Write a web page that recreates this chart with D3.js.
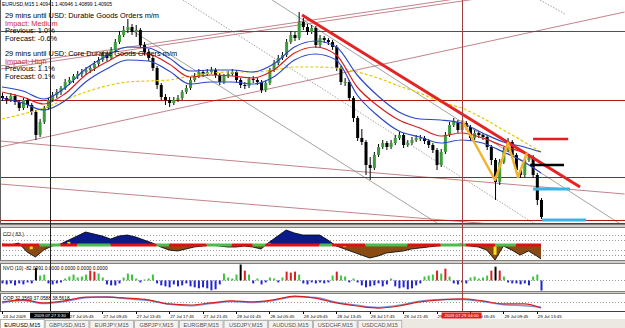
<!DOCTYPE html>
<html>
<head>
<meta charset="utf-8">
<script src="https://cdn.jsdelivr.net/npm/d3@7"></script>
<style>
body { margin: 0; background: #fff; }
svg { display: block; font-family: "Liberation Sans", Arial, sans-serif; }
</style>
</head>
<body>
<script>
// ---- price bars, 30 min steps (every 2nd M15 bar) ----
var firstOpen = 1.4209;
var closes = [1.4207,1.4205,1.4209,1.4203,1.4197,1.4205,1.4200,1.4193,1.4170,1.4183,
1.4197,1.4205,1.4210,1.4213,1.4217,1.4223,1.4225,1.4229,1.4231,1.4233,
1.4235,1.4237,1.4241,1.4245,1.4250,1.4247,1.4255,1.4263,1.4270,1.4275,
1.4278,1.4273,1.4275,1.4260,1.4253,1.4247,1.4237,1.4220,1.4208,1.4205,
1.4202,1.4205,1.4207,1.4213,1.4217,1.4225,1.4229,1.4233,1.4231,1.4233,
1.4235,1.4230,1.4223,1.4229,1.4231,1.4233,1.4225,1.4220,1.4219,1.4226,
1.4225,1.4223,1.4215,1.4222,1.4235,1.4242,1.4247,1.4250,1.4263,1.4270,
1.4267,1.4283,1.4278,1.4273,1.4277,1.4260,1.4267,1.4265,1.4263,1.4258,
1.4237,1.4223,1.4223,1.4207,1.4187,1.4167,1.4163,1.4140,1.4137,1.4150,
1.4158,1.4162,1.4158,1.4162,1.4167,1.4170,1.4160,1.4162,1.4165,1.4167,
1.4167,1.4164,1.4160,1.4155,1.4140,1.4153,1.4170,1.4180,1.4183,1.4175,
1.4182,1.4178,1.4167,1.4172,1.4170,1.4168,1.4158,1.4145,1.4123,1.4143,
1.4155,1.4163,1.4150,1.4135,1.4130,1.4145,1.4148,1.4130,1.4105,1.4088];
var highs = [1.4212,1.4209,1.4212,1.4211,1.4205,1.4207,1.4207,1.4202,1.4195,1.4186,
1.4199,1.4207,1.4213,1.4216,1.4219,1.4226,1.4228,1.4231,1.4234,1.4236,
1.4238,1.4240,1.4244,1.4248,1.4253,1.4253,1.4258,1.4266,1.4274,1.4279,
1.4286,1.4281,1.4280,1.4277,1.4263,1.4256,1.4249,1.4239,1.4222,1.4211,
1.4208,1.4208,1.4210,1.4215,1.4220,1.4228,1.4232,1.4236,1.4235,1.4236,
1.4238,1.4237,1.4232,1.4231,1.4234,1.4236,1.4235,1.4227,1.4223,1.4228,
1.4229,1.4227,1.4225,1.4224,1.4237,1.4245,1.4250,1.4253,1.4266,1.4274,
1.4273,1.4293,1.4287,1.4281,1.4280,1.4279,1.4270,1.4269,1.4267,1.4265,
1.4260,1.4239,1.4227,1.4225,1.4209,1.4189,1.4176,1.4165,1.4148,1.4153,
1.4161,1.4165,1.4164,1.4165,1.4170,1.4173,1.4172,1.4165,1.4168,1.4170,
1.4170,1.4169,1.4166,1.4162,1.4157,1.4156,1.4173,1.4183,1.4187,1.4185,
1.4185,1.4184,1.4180,1.4175,1.4174,1.4172,1.4170,1.4160,1.4147,1.4146,
1.4158,1.4167,1.4165,1.4152,1.4137,1.4148,1.4151,1.4150,1.4132,1.4107];
var lows = [1.4204,1.4201,1.4203,1.4200,1.4194,1.4195,1.4197,1.4190,1.4165,1.4168,
1.4181,1.4195,1.4203,1.4207,1.4210,1.4215,1.4220,1.4222,1.4226,1.4228,
1.4230,1.4232,1.4234,1.4238,1.4243,1.4244,1.4245,1.4253,1.4261,1.4268,
1.4272,1.4270,1.4268,1.4257,1.4250,1.4244,1.4234,1.4216,1.4205,1.4200,
1.4198,1.4200,1.4203,1.4205,1.4211,1.4215,1.4223,1.4227,1.4228,1.4229,
1.4231,1.4227,1.4220,1.4221,1.4227,1.4229,1.4222,1.4217,1.4216,1.4217,
1.4222,1.4220,1.4212,1.4213,1.4220,1.4233,1.4240,1.4245,1.4248,1.4261,
1.4264,1.4265,1.4275,1.4270,1.4271,1.4257,1.4258,1.4262,1.4260,1.4255,
1.4234,1.4220,1.4219,1.4204,1.4183,1.4164,1.4160,1.4130,1.4125,1.4135,
1.4148,1.4156,1.4155,1.4156,1.4160,1.4165,1.4157,1.4158,1.4160,1.4163,
1.4164,1.4161,1.4157,1.4152,1.4135,1.4138,1.4151,1.4168,1.4178,1.4172,
1.4173,1.4175,1.4164,1.4165,1.4167,1.4165,1.4155,1.4140,1.4105,1.4120,
1.4141,1.4153,1.4147,1.4132,1.4127,1.4128,1.4143,1.4127,1.4100,1.4086];

// ---- moving averages, sampled on these M15 bars ----
var maBars = [0,10,20,30,40,50,60,70,80,90,100,110,120,130,140,150,160,170,180,190,200,210,220,230,240,250,258];
var maUpper = [1.4218,1.4214,1.4206,1.4217,1.4236,1.4249,1.4258,1.4257,1.4247,1.4234,1.4235,1.4235,1.4233,1.4241,1.4258,1.4264,1.4258,1.4230,1.4209,1.4193,1.4186,1.4185,1.4182,1.4172,1.4163,1.4158,1.4153];
var maMid = [1.4213,1.4208,1.4201,1.4211,1.4230,1.4243,1.4252,1.4251,1.4241,1.4228,1.4230,1.4229,1.4227,1.4235,1.4252,1.4258,1.4250,1.4218,1.4199,1.4185,1.4177,1.4169,1.4172,1.4167,1.4159,1.4152,1.4143];
var maLower = [1.4207,1.4202,1.4195,1.4204,1.4223,1.4236,1.4245,1.4244,1.4234,1.4221,1.4223,1.4223,1.4221,1.4228,1.4245,1.4251,1.4245,1.4210,1.4189,1.4174,1.4168,1.4162,1.4165,1.4162,1.4153,1.4143,1.4132];
var maSlow = [1.4186,1.4191,1.4197,1.4205,1.4213,1.4219,1.4223,1.4224,1.4225,1.4229,1.4232,1.4233,1.4233,1.4235,1.4238,1.4238,1.4237,1.4233,1.4227,1.4219,1.4212,1.4203,1.4197,1.4187,1.4175,1.4163,1.4153];

// ---- chart objects [bar, price] ----
var hLinesRed = [1.4205, 1.4128, 1.4085, 1.4082];
var crossPrice = 1.4274;
var pinkLines = [
  [[-1,1.4158],[298,1.4293]],
  [[-1,1.4239],[230,1.4310]],
  [[-1,1.4236],[230,1.4307]],
  [[-1,1.4164],[298,1.4111]],
  [[-1,1.4121],[258,1.4077]]
];
var grayLines = [
  [[129.3,1.4305],[298.2,1.4078]],
  [[60.3,1.4277],[212,1.4077]]
];
var dottedLines = [
  [[86.6,1.4305],[255.1,1.4081]],
  [[257.5,1.4305],[269.5,1.4291]]
];
var trendLine = [[143.6,1.4290],[276.7,1.4118]];
var zigzag = [[220.2,1.4185],[236,1.4125],[242.2,1.4162],[247,1.4128],[251.3,1.4152]];
var levelSegs = [
  {from:252.8, to:269, price:1.4140, color:"#000"},
  {from:254.2, to:271, price:1.4166, color:"#e02020"},
  {from:254.2, to:271.9, price:1.4116, color:"#3cb4e6"},
  {from:258.5, to:279.6, price:1.4085, color:"#3cb4e6"}
];

// ---- CCI (63) ----
var cciBars = d3.range(0, 257, 4).concat([258]);
var cci = [20,0,40,-140,-240,-100,-20,20,100,180,260,220,180,120,180,200,160,100,40,-40,
-100,-120,-80,-40,-20,0,-20,-40,-40,-20,-40,-80,60,180,300,240,200,200,200,100,
-20,-80,-140,-200,-260,-220,-160,-140,-120,-80,-60,-40,-20,0,0,20,-20,-40,-100,-300,
-20,-100,-200,-120,-220,-280];
var cciTrend = [[0,18,"r"],[18,28,"g"],[28,36,"r"],[36,52,"g"],[52,74,"r"],[74,80,"g"],[80,98,"r"],
[98,110,"g"],[110,120,"r"],[120,126,"g"],[126,152,"r"],[152,158,"g"],[158,174,"r"],[174,194,"g"],
[194,210,"r"],[210,222,"g"],[222,236,"r"],[236,246,"g"],[246,258,"r"]];
var cciYellow = [[14,-120],[32,90],[128,50],[164,-60],[236,-280]];

// ---- NVO (10), one per 30 min bar ----
var nvo = [-24,-32,-24,-40,-24,-32,-16,-24,100,40,
48,-24,-32,-24,-16,16,32,48,24,32,
48,80,72,56,24,-32,-40,-40,-24,24,
56,48,16,-16,8,16,48,-24,-40,-48,
-56,-32,-48,-40,-24,-48,-56,-64,-56,-64,
-80,-72,-32,56,24,16,48,130,80,48,
-24,16,-32,-16,24,16,-16,24,72,64,
72,48,-24,-32,-16,-24,-16,-24,-16,40,
72,40,32,-16,16,-16,-40,-56,-48,-40,
-24,-48,-32,16,-48,-64,-56,-72,-64,-40,
-24,32,40,48,80,56,96,32,-24,-32,
-16,-24,24,32,16,24,40,80,112,80,
32,-16,-24,-24,-32,-24,-40,32,48,-82];

// ---- OOP, on maBars ----
var oopRed = [51,57,48,54,65,65,62,57,45,42,48,54,51,57,68,62,48,39,33,39,51,57,60,54,45,45,33];
var oopBlue = [48,55,46,52,63,66,60,55,44,40,46,52,49,55,66,64,50,41,35,41,53,58,58,52,43,40,36];

// ---- texts ----
var infoText = "EURUSD,M15  1.40941 1.40946 1.40899 1.40905";
var newsLines = [
  ["29 mins until USD: Durable Goods Orders m/m", 0],
  ["Impact: Medium", 1],
  ["Previous: 1.0%", 2],
  ["Forecast: -0.6%", 3],
  ["29 mins until USD: Core Durable Goods Orders m/m", 5],
  ["Impact: High", 6],
  ["Previous: 1.1%", 7],
  ["Forecast: 0.1%", 8]
];
var timeTicks = [[0,"24 Jul 2009"],[32,"27 Jul 05:45"],[48,"27 Jul 09:45"],[64,"27 Jul 13:45"],
[80,"27 Jul 17:45"],[96,"27 Jul 21:45"],[112,"28 Jul 01:45"],[128,"28 Jul 05:45"],[144,"28 Jul 09:45"],
[160,"28 Jul 13:45"],[176,"28 Jul 17:45"],[192,"28 Jul 21:45"],[208,"29 Jul 01:45"],[224,"29 Jul 05:45"],
[240,"29 Jul 09:45"],[256,"29 Jul 13:45"]];
var crossBar = 23, crossText = "2009.07.27 3:30";
var vlineBar = 220, vlineText = "2009.07.29 04:00";
var tabs = ["EURUSD,M15","GBPUSD,M15","EURJPY,M15","GBPJPY,M15","EURGBP,M15","USDJPY,M15","AUDUSD,M15","USDCHF,M15","USDCAD,M15"];

// ================= drawing =================
var width = 625, height = 328;
var svg = d3.select("body").append("svg").attr("width", width).attr("height", height);

var mainB = [0, 224], cciB = [228, 260], nvoB = [264, 291], oopB = [294, 311];

var x = d3.scaleLinear().domain([0, 258]).range([2, 541]);
var y = d3.scaleLinear().domain([1.4081, 1.4305]).range([mainB[1], mainB[0]]);
var yCci = d3.scaleLinear().domain([-300, 300]).range([260, 230]);
var yNvo = d3.scaleLinear().domain([-90, 130]).range([291.5, 264.5]);
var yOop = d3.scaleLinear().domain([20, 80]).range([312.5, 292]);

var defs = svg.append("defs");
function clip(id, y0, y1) {
  defs.append("clipPath").attr("id", id).append("rect")
    .attr("x", 0).attr("y", y0).attr("width", width).attr("height", y1 - y0);
}
clip("cMain", mainB[0], mainB[1]);
clip("cCci", cciB[0], cciB[1]);
clip("cPos", cciB[0], yCci(0));
clip("cNeg", yCci(0), cciB[1]);
clip("cNvo", nvoB[0], nvoB[1]);
clip("cOop", oopB[0], oopB[1]);

// separators between windows
[[mainB[1], cciB[0]], [cciB[1], nvoB[0]], [nvoB[1], oopB[0]]].forEach(function (s) {
  svg.append("rect").attr("x", 0).attr("y", s[0]).attr("width", width).attr("height", s[1] - s[0])
    .attr("fill", "#d4d0c8");
  svg.append("line").attr("x1", 0).attr("x2", width).attr("y1", s[0] + 0.5).attr("y2", s[0] + 0.5)
    .attr("stroke", "#808080");
  svg.append("line").attr("x1", 0).attr("x2", width).attr("y1", s[1] - 0.5).attr("y2", s[1] - 0.5)
    .attr("stroke", "#808080");
});

// ---------- main window ----------
var main = svg.append("g").attr("clip-path", "url(#cMain)");
var lineGen = d3.line().x(function (d) { return x(d[0]); }).y(function (d) { return y(d[1]); });

main.selectAll(".pink").data(pinkLines).enter().append("path")
  .attr("d", lineGen).attr("stroke", "#c4838c").attr("fill", "none").attr("stroke-width", 1);
main.selectAll(".gray").data(grayLines).enter().append("path")
  .attr("d", lineGen).attr("stroke", "#8c8c8c").attr("fill", "none").attr("stroke-width", 0.8);
main.selectAll(".dot").data(dottedLines).enter().append("path")
  .attr("d", lineGen).attr("stroke", "#8c8c8c").attr("fill", "none").attr("stroke-width", 0.8)
  .attr("stroke-dasharray", "1.5,1.5");
main.selectAll(".hl").data(hLinesRed).enter().append("line")
  .attr("x1", 0).attr("x2", width)
  .attr("y1", function (d) { return Math.round(y(d)) + 0.5; })
  .attr("y2", function (d) { return Math.round(y(d)) + 0.5; })
  .attr("stroke", "#b01818");
main.append("line").attr("x1", 0).attr("x2", width)
  .attr("y1", Math.round(y(crossPrice)) + 0.5).attr("y2", Math.round(y(crossPrice)) + 0.5)
  .attr("stroke", "#505050");

// candles
var bars = closes.map(function (c, i) {
  return { bar: i * 2, o: i === 0 ? firstOpen : closes[i - 1], c: c, h: highs[i], l: lows[i] };
});
var cg = main.append("g");
cg.selectAll(".wick").data(bars).enter().append("line")
  .attr("x1", function (d) { return x(d.bar) + 0.5; })
  .attr("x2", function (d) { return x(d.bar) + 0.5; })
  .attr("y1", function (d) { return y(d.h); })
  .attr("y2", function (d) { return y(d.l); })
  .attr("stroke", "#000").attr("stroke-width", 1);
cg.selectAll(".body").data(bars).enter().append("rect")
  .attr("x", function (d) { return x(d.bar) - 1; })
  .attr("width", 3)
  .attr("y", function (d) { return y(Math.max(d.o, d.c)); })
  .attr("height", function (d) { return Math.max(1, Math.abs(y(d.o) - y(d.c))); })
  .attr("fill", function (d) { return d.c >= d.o ? "#3c9c3c" : "#000"; });

// moving averages
function maLine(vals) {
  return d3.line().curve(d3.curveMonotoneX)
    .x(function (d, i) { return x(maBars[i]); })
    .y(function (d) { return y(d); })(vals);
}
main.append("path").attr("d", maLine(maSlow)).attr("fill", "none")
  .attr("stroke", "#e6c800").attr("stroke-width", 1.2).attr("stroke-dasharray", "3,2");
main.append("path").attr("d", maLine(maUpper)).attr("fill", "none").attr("stroke", "#2a48c8").attr("stroke-width", 1.2);
main.append("path").attr("d", maLine(maLower)).attr("fill", "none").attr("stroke", "#2a48c8").attr("stroke-width", 1.2);
main.append("path").attr("d", maLine(maMid)).attr("fill", "none").attr("stroke", "#d42020").attr("stroke-width", 1.2);

// objects on top
main.append("path").attr("d", lineGen(trendLine)).attr("stroke", "#e42424").attr("stroke-width", 3)
  .attr("fill", "none");
main.append("path").attr("d", lineGen(zigzag)).attr("stroke", "#f2b22a").attr("stroke-width", 2.5)
  .attr("fill", "none").attr("stroke-linejoin", "round");
main.selectAll(".seg").data(levelSegs).enter().append("line")
  .attr("x1", function (d) { return x(d.from); })
  .attr("x2", function (d) { return x(d.to); })
  .attr("y1", function (d) { return y(d.price); })
  .attr("y2", function (d) { return y(d.price); })
  .attr("stroke", function (d) { return d.color; })
  .attr("stroke-width", function (d) { return d.color === "#3cb4e6" ? 3 : 2.5; });

// texts
svg.append("text").attr("x", 2).attr("y", 6).attr("font-size", 5).text(infoText);
svg.selectAll(".news").data(newsLines).enter().append("text")
  .attr("x", 5).attr("y", function (d) { return 18 + d[1] * 7.6; })
  .attr("font-size", 7.4)
  .attr("fill", function (d) { return d[0].indexOf("Impact") === 0 ? "#d42a2a" : "#000"; })
  .text(function (d) { return d[0]; });

// ---------- CCI ----------
var cciG = svg.append("g").attr("clip-path", "url(#cCci)");
[-200, -100, 100, 200].forEach(function (v) {
  cciG.append("line").attr("x1", 0).attr("x2", width)
    .attr("y1", Math.round(yCci(v)) + 0.5).attr("y2", Math.round(yCci(v)) + 0.5)
    .attr("stroke", "#9a9a9a").attr("stroke-dasharray", "1,2");
});
var cciArea = d3.area().x(function (d, i) { return x(cciBars[i]); })
  .y0(yCci(0)).y1(function (d) { return yCci(d); });
cciG.append("path").attr("d", cciArea(cci)).attr("fill", "#0a1a8a").attr("clip-path", "url(#cPos)");
cciG.append("path").attr("d", cciArea(cci)).attr("fill", "#8a4a14").attr("clip-path", "url(#cNeg)");
cciG.selectAll(".yel").data(cciYellow).enter().append("rect")
  .attr("x", function (d) { return x(d[0]) - 1.5; }).attr("width", 3)
  .attr("y", function (d) { return Math.min(yCci(0), yCci(d[1] * 0.7)); })
  .attr("height", function (d) { return Math.abs(yCci(d[1] * 0.7) - yCci(0)); })
  .attr("fill", "#f4e21a");
cciG.append("path").attr("d", d3.line().x(function (d, i) { return x(cciBars[i]); })
  .y(function (d) { return yCci(d); })(cci)).attr("fill", "none").attr("stroke", "#000").attr("stroke-width", 0.8);
cciG.selectAll(".trend").data(cciTrend).enter().append("rect")
  .attr("x", function (d) { return x(d[0]); })
  .attr("width", function (d) { return x(d[1]) - x(d[0]); })
  .attr("y", yCci(0) - 1.5).attr("height", 3)
  .attr("fill", function (d) { return d[2] === "r" ? "#e01010" : "#4cbc4c"; });
svg.append("text").attr("x", 3).attr("y", 235.5).attr("font-size", 4.8).text("CCI ( 63 )");

// ---------- NVO ----------
var nvoG = svg.append("g").attr("clip-path", "url(#cNvo)");
nvoG.append("line").attr("x1", 0).attr("x2", width).attr("y1", 280.5).attr("y2", 280.5)
  .attr("stroke", "#9a9a9a").attr("stroke-dasharray", "1,2");
nvoG.selectAll(".nv").data(nvo).enter().append("rect")
  .attr("x", function (d, i) { return x(i * 2) - 0.5; })
  .attr("width", 2)
  .attr("y", function (d) { return Math.min(yNvo(0), yNvo(d)); })
  .attr("height", function (d) { return Math.abs(yNvo(d) - yNvo(0)); })
  .attr("fill", function (d) {
    if (d < 0) return "#2424d0";
    if (d >= 100) return "#000";
    if (d >= 64) return "#d82020";
    return "#3cc43c";
  });
svg.append("text").attr("x", 3).attr("y", 270).attr("font-size", 4.8)
  .text("NVO (10) -82.0991 0.0000 0.0000 0.0000 0.0000");

// ---------- OOP ----------
var oopG = svg.append("g").attr("clip-path", "url(#cOop)");
oopG.append("line").attr("x1", 0).attr("x2", width)
  .attr("y1", Math.round(yOop(50)) + 0.5).attr("y2", Math.round(yOop(50)) + 0.5)
  .attr("stroke", "#9a9a9a").attr("stroke-dasharray", "1,2");
function oopLine(vals) {
  return d3.line().curve(d3.curveMonotoneX)
    .x(function (d, i) { return x(maBars[i]); }).y(function (d) { return yOop(d); })(vals);
}
oopG.append("path").attr("d", oopLine(oopBlue)).attr("fill", "none").attr("stroke", "#7c9ae6").attr("stroke-width", 1.5);
oopG.append("path").attr("d", oopLine(oopRed)).attr("fill", "none").attr("stroke", "#d42020").attr("stroke-width", 1.2);
svg.append("text").attr("x", 3).attr("y", 300).attr("font-size", 4.8)
  .text("OOP  32.3569 37.0588 38.5618");

// window frames
[mainB, cciB, nvoB, oopB].forEach(function (b) {
  svg.append("line").attr("x1", 0.5).attr("x2", 0.5).attr("y1", b[0]).attr("y2", b[1]).attr("stroke", "#606060");
});

// vertical lines through all windows
svg.append("line").attr("x1", Math.round(x(crossBar)) + 0.5).attr("x2", Math.round(x(crossBar)) + 0.5)
  .attr("y1", 0).attr("y2", 312).attr("stroke", "#202020");
svg.append("line").attr("x1", Math.round(x(vlineBar)) + 0.5).attr("x2", Math.round(x(vlineBar)) + 0.5)
  .attr("y1", 0).attr("y2", 312).attr("stroke", "#a04040");

// ---------- time axis ----------
svg.append("line").attr("x1", 0).attr("x2", width).attr("y1", 311.5).attr("y2", 311.5).attr("stroke", "#404040");
var tg = svg.append("g");
tg.selectAll(".tk").data(timeTicks).enter().append("line")
  .attr("x1", function (d) { return Math.round(x(d[0])) + 0.5; })
  .attr("x2", function (d) { return Math.round(x(d[0])) + 0.5; })
  .attr("y1", 311.5).attr("y2", 314).attr("stroke", "#000");
tg.selectAll(".tl").data(timeTicks).enter().append("text")
  .attr("x", function (d) { return x(d[0]) + 1; })
  .attr("y", 317.5).attr("font-size", 4.4).text(function (d) { return d[1]; });

function timeBox(bar, txt, fill) {
  var cx = x(bar);
  svg.append("rect").attr("x", cx - 20).attr("y", 312.5).attr("width", 40).attr("height", 6).attr("fill", fill);
  svg.append("text").attr("x", cx).attr("y", 317.3).attr("font-size", 4.4).attr("fill", "#fff")
    .attr("text-anchor", "middle").text(txt);
}
timeBox(crossBar, crossText, "#000");
timeBox(vlineBar, vlineText, "#e41c1c");

// ---------- tabs ----------
svg.append("rect").attr("x", 0).attr("y", 319).attr("width", width).attr("height", 9).attr("fill", "#ece9e2");
var tabW = 44.7;
svg.selectAll(".tab").data(tabs).enter().append("rect")
  .attr("x", function (d, i) { return i * tabW + 0.5; })
  .attr("y", function (d, i) { return i === 0 ? 319.5 : 320.5; })
  .attr("width", tabW - 1).attr("height", 9)
  .attr("fill", function (d, i) { return i === 0 ? "#fff" : "#f4f2ee"; })
  .attr("stroke", "#a8a8a8").attr("stroke-width", 0.8);
svg.selectAll(".tabt").data(tabs).enter().append("text")
  .attr("x", function (d, i) { return i * tabW + tabW / 2; })
  .attr("y", 326.5).attr("font-size", 5.6).attr("text-anchor", "middle")
  .attr("fill", function (d, i) { return i === 0 ? "#000" : "#555"; })
  .text(function (d) { return d; });
</script>
</body>
</html>
